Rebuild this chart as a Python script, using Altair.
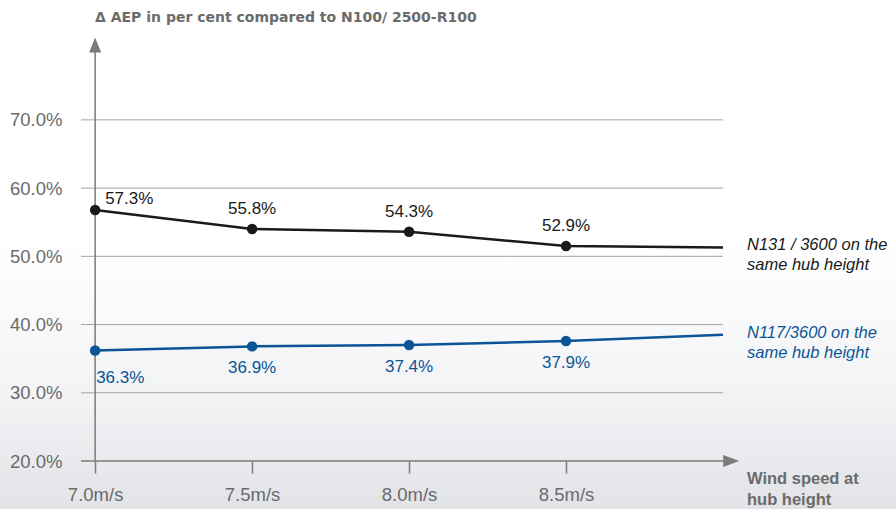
import altair as alt
import pandas as pd

# ---- data ----
speeds = [7.0, 7.5, 8.0, 8.5, 9.0]
n131_values = [56.8, 54.0, 53.6, 51.5, 51.3]
n117_values = [36.2, 36.8, 37.0, 37.6, 38.5]
n131_labels = ["57.3%", "55.8%", "54.3%", "52.9%", ""]
n117_labels = ["36.3%", "36.9%", "37.4%", "37.9%", ""]
marked = [True, True, True, True, False]
series_names = ["N131 / 3600 on the\nsame hub height", "N117/3600 on the\nsame hub height"]
y_ticks = [20, 30, 40, 50, 60, 70]
grid_values = [30, 40, 50, 60, 70]
x_ticks = [7.0, 7.5, 8.0, 8.5]
title_text = "Δ AEP in per cent compared to N100/ 2500-R100"
x_title = "Wind speed at\nhub height"

BLACK = "#1a1a1a"
BLUE = "#0b5597"
GRAY = "#6b6b6b"
AXIS = "#7a7a7a"
FONT = "Liberation Sans"

X_DOMAIN = [6.955, 9.0]
Y_DOMAIN = [20, 82]

rows = []
for s, v, l, m in zip(speeds, n131_values, n131_labels, marked):
    rows.append({"speed": s, "value": v, "label": l, "marked": m, "series": "n131"})
for s, v, l, m in zip(speeds, n117_values, n117_labels, marked):
    rows.append({"speed": s, "value": v, "label": l, "marked": m, "series": "n117"})
df = pd.DataFrame(rows)

xs = alt.Scale(domain=X_DOMAIN, nice=False, zero=False)
ys = alt.Scale(domain=Y_DOMAIN, nice=False, zero=False)

XAX = alt.Axis(values=x_ticks, labelExpr="format(datum.value, '.1f') + 'm/s'",
               title=None, grid=False, domain=False, ticks=True, tickSize=12,
               tickColor=AXIS, tickWidth=1.5, labelPadding=12, labelFontSize=18.5,
               labelColor=GRAY, labelFont=FONT, zindex=1)
YAX = alt.Axis(values=y_ticks, labelExpr="format(datum.value, '.1f') + '%'",
               title=None, grid=False, domain=False, ticks=False, labelPadding=19,
               labelFontSize=18.5, labelColor=GRAY, labelFont=FONT, zindex=1)


def X(field):
    return alt.X(field, scale=xs, axis=XAX)


def Y(field):
    return alt.Y(field, scale=ys, axis=YAX)


base = alt.Chart(df)

# background haze
bg = alt.Chart(pd.DataFrame({"k": [0]})).mark_rect(
    fill=alt.Gradient(
        gradient="linear", x1=0, y1=0, x2=0, y2=1,
        stops=[alt.GradientStop(offset=0, color="#ffffff"),
               alt.GradientStop(offset=0.55, color="#f3f4f6"),
               alt.GradientStop(offset=1, color="#e1e3e6")]),
    clip=False,
).encode(x=alt.value(-81), x2=alt.value(815), y=alt.value(200), y2=alt.value(471))

grid = alt.Chart(pd.DataFrame({"g": grid_values})).mark_rule(
    color="#a3a3a3", strokeWidth=1
).encode(y=Y("g:Q"), x=alt.value(0), x2=alt.value(642))

# axis lines and arrow heads
xline = alt.Chart(pd.DataFrame({"a": [X_DOMAIN[0]], "b": [9.0], "y": [20]})).mark_rule(
    color=AXIS, strokeWidth=1.5, clip=False
).encode(x=X("a:Q"), x2="b:Q", y=Y("y:Q"))
yline = alt.Chart(pd.DataFrame({"x": [7.0], "a": [20], "b": [80.5]})).mark_rule(
    color=AXIS, strokeWidth=1.5, clip=False
).encode(x=X("x:Q"), y=Y("a:Q"), y2="b:Q")
up_arrow = alt.Chart(pd.DataFrame({"x": [7.0], "y": [80.97]})).mark_point(
    shape="M-0.8,1L0,-1L0.8,1Z", filled=True, color=AXIS, opacity=1, size=225, clip=False
).encode(x=X("x:Q"), y=Y("y:Q"))
right_arrow = alt.Chart(pd.DataFrame({"x": [9.026], "y": [20]})).mark_point(
    shape="M-1,-0.75L1,0L-1,0.75Z", filled=True, color=AXIS, opacity=1, size=256, clip=False
).encode(x=X("x:Q"), y=Y("y:Q"))

x_title_mark = alt.Chart(pd.DataFrame({"x": [9.0], "y": [20], "t": [x_title]})).mark_text(
    align="left", baseline="top", dx=24, dy=10, fontSize=16.5, fontWeight="bold",
    color=GRAY, font=FONT, lineBreak="\n", lineHeight=21
).encode(x=X("x:Q"), y=Y("y:Q"), text="t:N")

title_mark = alt.Chart(pd.DataFrame({"t": [title_text]})).mark_text(
    align="left", baseline="middle", fontSize=14, fontWeight="bold",
    color=GRAY, font="DejaVu Sans", clip=False
).encode(x=alt.value(14), y=alt.value(-20), text="t:N")


def series_layers(key, color, label_dy, first_dx, first_dy, name):
    d = base.transform_filter(alt.datum.series == key)
    line = d.mark_line(color=color, strokeWidth=2.5).encode(
        x=X("speed:Q"), y=Y("value:Q"))
    pts = d.transform_filter(alt.datum.marked).mark_circle(
        color=color, opacity=1, size=110, clip=False).encode(
        x=X("speed:Q"), y=Y("value:Q"))
    lab_rest = d.transform_filter("datum.marked && datum.speed > 7.0").mark_text(
        align="center", baseline="middle", dy=label_dy, fontSize=17, color=color, font=FONT
    ).encode(x=X("speed:Q"), y=Y("value:Q"), text="label:N")
    lab_first = d.transform_filter("datum.speed == 7.0").mark_text(
        align="left", baseline="middle", dx=first_dx, dy=first_dy, fontSize=17,
        color=color, font=FONT
    ).encode(x=X("speed:Q"), y=Y("value:Q"), text="label:N")
    end_lab = d.transform_filter("datum.speed == 9.0").mark_text(
        align="left", baseline="middle", dx=24, dy=-2, fontSize=16.5, fontStyle="italic",
        color=color, font=FONT, lineBreak="\n", lineHeight=20
    ).encode(x=X("speed:Q"), y=Y("value:Q"), text=alt.value(name))
    return [line, pts, lab_rest, lab_first, end_lab]


layers = [bg, grid, xline, yline, up_arrow, right_arrow, x_title_mark, title_mark]
layers += series_layers("n131", BLACK, -20, 10, -11, series_names[0])
layers += series_layers("n117", BLUE, 22, 1, 28, series_names[1])

chart = alt.layer(*layers).properties(
    width=642, height=423,
    autosize=alt.AutoSizeParams(type="none"),
    padding={"left": 81, "top": 38, "right": 173, "bottom": 48},
    background="white",
).configure_view(stroke="transparent", strokeWidth=0)

chart.save("out.html", embed_options={"renderer": "svg", "actions": False})
